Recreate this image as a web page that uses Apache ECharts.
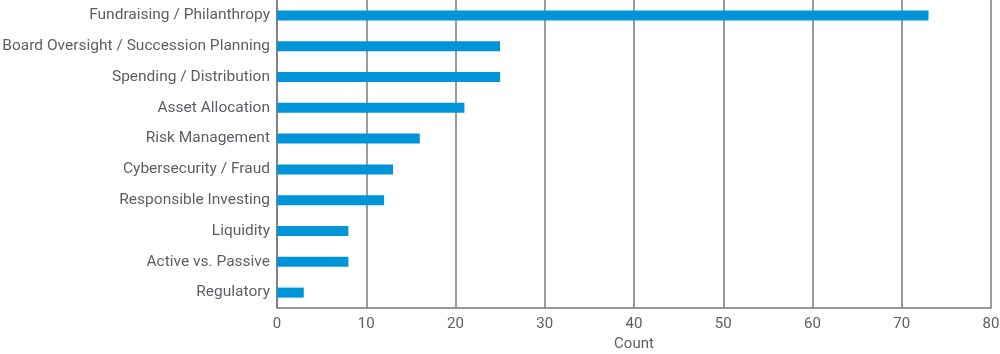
<!DOCTYPE html>
<html>
<head>
<meta charset="utf-8">
<script src="https://cdn.jsdelivr.net/npm/echarts@6/dist/echarts.min.js"></script>
<style>
  html, body { margin: 0; padding: 0; background: #fff; }
  #chart { width: 1000px; height: 354px; }
</style>
</head>
<body>
<div id="chart"></div>
<script>
// categories top to bottom
var categories = [
    'Fundraising / Philanthropy',
    'Board Oversight / Succession Planning',
    'Spending / Distribution',
    'Asset Allocation',
    'Risk Management',
    'Cybersecurity / Fraud',
    'Responsible Investing',
    'Liquidity',
    'Active vs. Passive',
    'Regulatory'
];
var counts = [73, 25, 25, 21, 16, 13, 12, 8, 8, 3];
var xTicks = [0, 10, 20, 30, 40, 50, 60, 70, 80];

var textColor = '#5b6067';
var lineColor = '#777a80';

var myChart = echarts.init(document.getElementById('chart'));
myChart.setOption({
    animation: false,
    grid: { left: 277, right: 9, top: 0, bottom: 46, containLabel: false, outerBoundsMode: 'none' },
    xAxis: {
        type: 'value',
        min: xTicks[0],
        max: xTicks[xTicks.length - 1],
        interval: 10,
        name: 'Count',
        nameLocation: 'middle',
        nameGap: 29,
        nameTextStyle: { color: textColor, fontSize: 15, fontFamily: 'Roboto' },
        axisLine: { show: true, lineStyle: { color: lineColor, width: 1.5 } },
        axisTick: { show: false },
        axisLabel: { color: textColor, fontSize: 15, fontFamily: 'Roboto', margin: 9 },
        splitLine: { show: true, lineStyle: { color: lineColor, width: 1.5 } }
    },
    yAxis: {
        type: 'category',
        inverse: true,
        data: categories,
        axisLine: { show: true, lineStyle: { color: lineColor, width: 1.5 } },
        axisTick: { show: false },
        axisLabel: { color: textColor, fontSize: 15.5, fontFamily: 'Roboto', margin: 7 }
    },
    series: [{
        type: 'bar',
        data: counts,
        barWidth: 10,
        itemStyle: { color: '#0095d8' }
    }]
});
</script>
</body>
</html>
